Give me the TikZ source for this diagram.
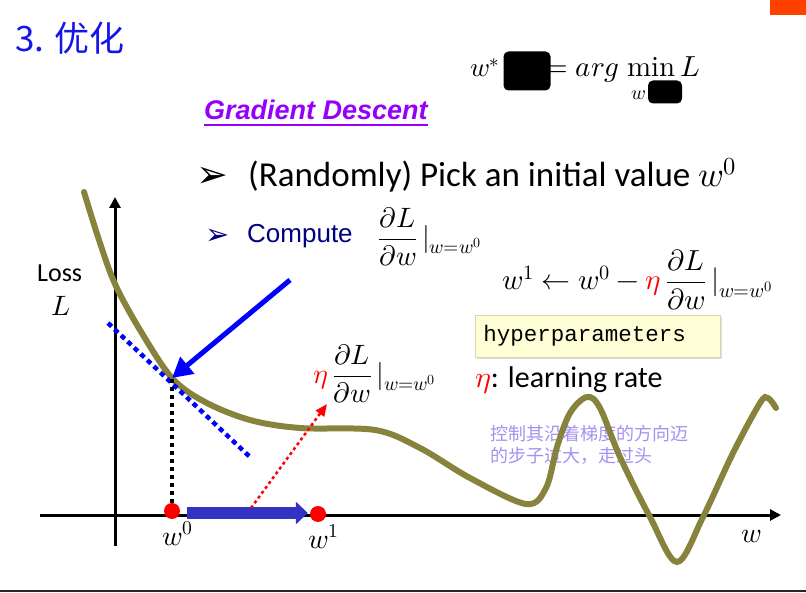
\documentclass[tikz,border=0pt]{standalone}
\usepackage{amsmath}
\usepackage{fontspec}
\usepackage{unicode-math}
\setmainfont{Carlito}
\newfontfamily\arialfont{Liberation Sans}
\newfontfamily\monofont{Liberation Mono}
\newfontfamily\cjkfont{Noto Sans CJK SC}
\newfontfamily\symfont{DejaVu Sans}
\usetikzlibrary{arrows.meta,positioning,calc,shadows}
\definecolor{titleblue}{RGB}{20,20,235}
\definecolor{tabred}{RGB}{255,65,0}
\definecolor{gdpurple}{RGB}{150,0,250}
\definecolor{navy}{RGB}{0,0,130}
\definecolor{curveolive}{RGB}{135,130,60}
\definecolor{notepurple}{RGB}{165,145,240}
\definecolor{hyperfill}{RGB}{255,255,215}
\definecolor{hyperedge}{RGB}{215,215,170}
\definecolor{barblue}{RGB}{50,50,195}

\begin{document}
\begin{tikzpicture}[x=1pt,y=-1pt,
  lab/.style={inner sep=0pt},
  big/.style={font=\fontsize{35}{40}\selectfont},
  mid/.style={font=\fontsize{28}{32}\selectfont},
  dot/.style={circle,fill=red,inner sep=0pt,minimum size=16pt},
  hidebox/.style={fill=black,rounded corners=5pt,inner sep=0pt},
  axis/.style={line width=3pt,-{Triangle[length=11pt,width=11pt]}},
  curve/.style={curveolive,line width=6pt,line cap=round},
  hyper/.style={fill=hyperfill,draw=hyperedge,line width=0.8pt,
    drop shadow={fill=black!25,shadow xshift=2pt,shadow yshift=-2pt}}]
\useasboundingbox (0,0) rectangle (806,593);

%% header
\node[lab,anchor=west,text=titleblue,font=\cjkfont\fontsize{35}{38}\selectfont] (title) at (15,38) {3. 优化};
\fill[tabred] (770,0) rectangle (806,15);
\draw[line width=2pt,black!85] (0,591) -- (806,591);

%% objective, partly covered
\node[lab,anchor=base east,font=\fontsize{27}{30}\selectfont] (wstar) at (500,77) {$w^{*}$};
\node[lab,anchor=base west,font=\fontsize{29}{32}\selectfont] (argmin) at (545,77) {$=arg\;\symup{min}\,L$};
\node[hidebox,minimum width=47pt,minimum height=39pt] (hideA) at (527,71) {};
\node[lab,font=\fontsize{20}{22}\selectfont] (wsub) at (639,95) {$w$};
\node[hidebox,minimum width=34pt,minimum height=23pt] (hideB) at (665,92) {};

%% bullets
\node[lab,anchor=base west,text=gdpurple,font=\arialfont\bfseries\itshape\fontsize{27}{30}\selectfont] (gd) at (204,120) {Gradient Descent};
\draw[gdpurple,line width=1.6pt] ($(gd.base west)+(0,5)$) -- ($(gd.base east)+(0,5)$);
\node[lab,anchor=base west,font=\symfont\fontsize{38}{40}\selectfont] (b1) at (196,188) {➢};
\node[lab,anchor=base west,big] (pick) at (248,187) {(Randomly) Pick an initial value $w^0$};
\node[lab,anchor=base west,text=navy,font=\symfont\fontsize{29}{32}\selectfont] (b2) at (205,245) {➢};
\node[lab,anchor=base west,text=navy,font=\arialfont\fontsize{26}{30}\selectfont] (comp) at (247,243) {Compute};
\node[lab,anchor=west,font=\fontsize{28}{32}\selectfont] (grad) at (378,237) {$\dfrac{\partial L}{\partial w}\,|_{w=w^0}$};
\node[lab,anchor=west,font=\fontsize{29}{32}\selectfont] (update) at (502,280) {$w^1\leftarrow w^0-{\color{red}\eta}\,\dfrac{\partial L}{\partial w}\,|_{w=w^0}$};
\node[hyper,anchor=west,text width=229pt,inner xsep=8pt,minimum height=42pt,font=\monofont\fontsize{22.5}{26}\selectfont] (hyp) at (475,336) {hyperparameters};
\node[lab,anchor=base west,font=\fontsize{30}{34}\selectfont] (eta) at (475,388) {${\color{red}\eta}$: learning rate};
\node[lab,anchor=north west,align=left,text=notepurple,font=\cjkfont\fontsize{18}{22}\selectfont] (note) at (490,425) {控制其沿着梯度的方向迈\\的步子过大，走过头};

%% axes
\draw[axis] (40,515) -- (781,515);
\draw[axis] (115,546) -- (115,197);
\node[lab,anchor=base west,font=\fontsize{26}{30}\selectfont] (loss) at (37,282) {Loss};
\node[lab,mid] (lossL) at (61,306) {$L$};
\node[lab,anchor=base west,mid] (waxis) at (741,542) {$w$};

%% loss curve
\draw[curve] plot[smooth,tension=0.55] coordinates {(84,192) (99,240) (115,284) (140,330) (172,378)
  (205,402) (250,420) (300,428) (375,430) (420,448) (470,478) (526,504) (546,488) (557,447)
  (570,413) (587,397) (600,408) (620,457) (650,517) (677,562) (703,517) (733,453) (760,403)
  (768,398) (776,408)};

%% tangent and step
\coordinate (tp) at (172,378);
\coordinate (arrtail) at (290,280);
\coordinate (rtail) at (251,508);
\coordinate (rhead) at (327,404);
\draw[blue,line width=4.5pt,dash pattern=on 5pt off 4pt] (108,323) -- (250,457);
\node[dot] (w0) at (172,511) {};
\node[dot] (w1) at (318,514) {};
\draw[line width=4pt,dash pattern=on 4pt off 4pt] (w0.north) -- (tp);
\draw[blue,line width=5pt,-{Triangle[length=20pt,width=21pt]}] (arrtail) -- (tp);
\draw[barblue,line width=12pt,-{Triangle[length=12pt,width=22pt]}] ($(w0.east)+(7,2)$) -- ($(w1.west)+(-2,-1)$);
\draw[red,line width=2.5pt,dash pattern=on 3pt off 3pt,-{Triangle[length=12pt,width=10pt]}] (rtail) -- (rhead);
\node[lab,anchor=west,font=\fontsize{28}{32}\selectfont] (steplab) at (313,374) {${\color{red}\eta}\,\dfrac{\partial L}{\partial w}\,|_{w=w^0}$};
\node[lab,anchor=base west,mid] (w0lab) at (162,545) {$w^0$};
\node[lab,anchor=base west,mid] (w1lab) at (308,548) {$w^1$};
\end{tikzpicture}
\end{document}
